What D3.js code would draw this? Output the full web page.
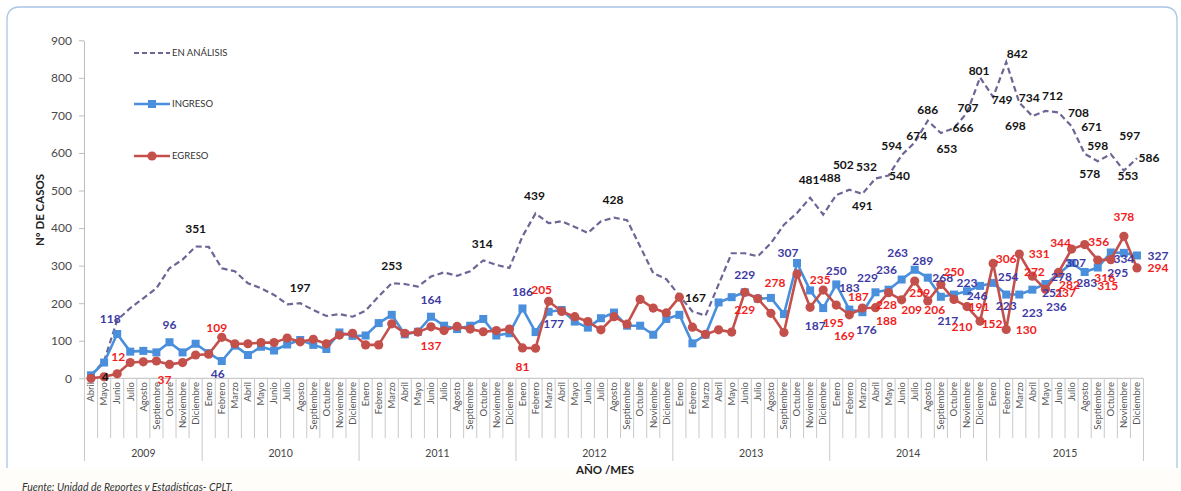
<!DOCTYPE html>
<html><head><meta charset="utf-8">
<script src="https://cdn.jsdelivr.net/npm/d3@7"></script>
<style>
html,body{margin:0;padding:0;background:#fff;}
svg{display:block;font-family:Lato,"Open Sans",sans-serif;}
</style></head>
<body><svg id="c" width="1181" height="491"></svg>
<script>
// ---------- DATA ----------
const years = ["2009","2010","2011","2012","2013","2014","2015"];
const monthNames = ["Enero","Febrero","Marzo","Abril","Mayo","Junio","Julio","Agosto","Septiembre","Octubre","Noviembre","Diciembre"];
const firstMonthIndex2009 = 3; // series starts in Abril 2009

const enAnalisis = [8,46,155,187,213,240,293,316,351,350,293,285,253,240,222,197,200,182,166,171,164,180,218,253,251,244,271,282,273,285,314,302,294,378,439,413,418,403,387,418,428,421,351,280,264,220,178,167,250,333,333,325,360,409,440,481,436,488,502,491,532,540,594,628,686,653,666,707,801,749,842,734,698,712,708,671,598,578,597,553,586];
const ingreso = [8,42,118,71,73,69,96,69,92,67,46,87,62,84,74,90,102,89,78,122,113,114,147,169,117,124,164,140,131,140,158,114,120,186,123,177,182,151,135,160,175,140,140,116,158,169,93,116,202,216,229,212,214,171,307,234,187,250,183,176,229,236,263,289,268,217,223,232,246,254,223,223,236,251,278,307,283,295,335,334,327];
const egreso = [0,4,12,42,44,46,37,42,62,64,109,92,92,95,95,107,97,104,92,115,120,89,89,145,120,123,137,127,138,131,124,127,131,81,80,205,178,164,151,129,164,144,210,187,174,216,136,117,129,123,229,212,173,122,278,189,235,195,169,187,188,228,209,259,206,250,210,191,152,306,130,331,272,237,282,344,356,315,316,378,294];

const yTicks = [0,100,200,300,400,500,600,700,800,900];

// data labels: [index, text]
const analisisLabels = [[8,"351"],[15,"197"],[23,"253"],[30,"314"],[34,"439"],[40,"428"],[47,"167"],[55,"481"],[57,"488"],[58,"502"],[59,"491"],[60,"532"],[61,"540"],[62,"594"],[63,"674"],[64,"686"],[65,"653"],[66,"666"],[67,"707"],[68,"801"],[69,"749"],[70,"842"],[71,"734"],[72,"698"],[73,"712"],[74,"708"],[75,"671"],[76,"598"],[77,"578"],[78,"597"],[79,"553"],[80,"586"]];
const ingresoLabels = [[2,"118"],[6,"96"],[10,"46"],[26,"164"],[33,"186"],[35,"177"],[50,"229"],[54,"307"],[56,"187"],[57,"250"],[58,"183"],[59,"176"],[60,"229"],[61,"236"],[62,"263"],[63,"289"],[64,"268"],[65,"217"],[66,"223"],[68,"246"],[69,"254"],[70,"223"],[71,"223"],[72,"236"],[73,"251"],[74,"278"],[75,"307"],[76,"283"],[77,"295"],[79,"334"],[80,"327"]];
const egresoLabels = [[1,"4"],[2,"12"],[6,"37"],[10,"109"],[26,"137"],[33,"81"],[35,"205"],[50,"229"],[54,"278"],[56,"235"],[57,"195"],[58,"169"],[59,"187"],[60,"188"],[61,"228"],[62,"209"],[63,"259"],[64,"206"],[65,"250"],[66,"210"],[67,"191"],[68,"152"],[69,"306"],[70,"130"],[71,"331"],[72,"272"],[73,"237"],[74,"282"],[75,"344"],[76,"356"],[77,"315"],[78,"316"],[79,"378"],[80,"294"]];

// ---------- LABEL PLACEMENT (offsets of text centre from the point) ----------
const placeA = {8:[0,-18],15:[13,-17],23:[0,-17],30:[-1,-17],34:[-1,-18],40:[-1,-18],47:[-10,-18],55:[-1,-18],57:[-6,-17],58:[-6,-25],59:[0,12],60:[-9,-12],61:[11,0],62:[-10,-9],63:[2,-7],64:[0,-11],65:[6,16],66:[9,0],67:[1,-5],68:[-1,-7],69:[9,3],70:[11,-8],71:[10,-5],72:[-17,10],73:[7,-15],74:[20,0],75:[20,0],76:[13,-8],77:[-8,13],78:[19,-18],79:[4,5],80:[12,0]};
const placeI = {2:[-7,-15],6:[0,-17],10:[-4,13],26:[0,-17],33:[0,-17],35:[5,12],50:[0,-17],54:[-9,-10],56:[-8,18],57:[0,-14],58:[0,-22],59:[4,18],60:[-8,-14],61:[-2,-20],62:[-4,-27],63:[8,-9],64:[15,0],65:[7,24],66:[13,-12],68:[-3,10],69:[15,-6],70:[0,11],71:[13,18],72:[24,17],73:[7,9],74:[3,3],75:[4,0],76:[2,11],77:[20,5],79:[0,6],80:[21,0]};
const placeE = {1:[1,0],2:[1,-17],6:[-5,15],10:[-5,-10],26:[0,19],33:[0,19],35:[-7,-12],50:[0,18],54:[-22,9],56:[-3,-10],57:[-3,18],58:[-5,21],59:[-4,-11],60:[11,13],61:[-2,12],62:[10,10],63:[5,12],64:[7,9],65:[13,-13],66:[8,27],67:[12,0],68:[12,3],69:[13,-5],70:[20,0],71:[20,0],72:[2,-4],73:[20,4],74:[11,12],75:[-11,-6],76:[14,-3],77:[10,26],78:[-6,18],79:[0,-20],80:[21,0]};

// ---------- CHART ----------
const svg = d3.select("#c");
const C = {dash:"#6c6695", blue:"#4a8fdc", red:"#c4504c", blueTxt:"#3e3aa3", redTxt:"#f21d1d", grid:"#c9c9c9", axisTxt:"#4a4a4a"};

// categories
const cats = [];
years.forEach((y,yi)=>{
  monthNames.forEach((m,mi)=>{
    if (yi===0 && mi<firstMonthIndex2009) return;
    cats.push({year:y, month:m});
  });
});

const x = d3.scaleBand().domain(d3.range(cats.length)).range([84.5,1143.5]).padding(0);
const bw = x.bandwidth();
const cx = i => x(i) + bw/2;
const y = d3.scaleLinear().domain([0,900]).range([378.3,40.3]);

// background / frame
svg.append("rect").attr("x",0).attr("y",0).attr("width",1181).attr("height",491).attr("fill","#fff");
svg.append("rect").attr("x",0).attr("y",469).attr("width",1181).attr("height",22).attr("fill","#fefdf9");
svg.append("path").attr("d","M7,468 V20 Q7,7 20,7 H1164 Q1177,7 1177,20 V468")
  .attr("fill","none").attr("stroke","#a9c5e5").attr("stroke-width",1.3);

// y axis
const yAxis = d3.axisLeft(y).tickValues(yTicks).tickSize(5).tickSizeOuter(0).tickPadding(7);
const gy = svg.append("g").attr("transform","translate(84,0)").call(yAxis);
gy.selectAll("path,line").attr("stroke","#bdbdbd");
gy.selectAll("text").attr("font-size",12).attr("fill",C.axisTxt).attr("font-family","Lato,sans-serif");

svg.append("text").attr("transform","translate(44,210) rotate(-90)")
  .attr("text-anchor","middle").attr("font-size",11.5).attr("font-weight","bold").attr("fill","#222")
  .text("N° DE CASOS");

// x axis baseline
svg.append("line").attr("x1",84.5).attr("x2",1143.5).attr("y1",y(0)).attr("y2",y(0)).attr("stroke","#bdbdbd");

// month separators
const gx = svg.append("g");
d3.range(cats.length+1).forEach(i=>{
  const xx = i<cats.length ? x(i) : x(cats.length-1)+bw;
  const isYear = i===0 || i===cats.length || cats[i].month==="Enero";
  gx.append("line").attr("x1",xx).attr("x2",xx).attr("y1",y(0)).attr("y2",isYear?461:438)
    .attr("stroke",C.grid).attr("stroke-width",1);
});
// month labels
gx.selectAll("text.m").data(cats).join("text").attr("class","m")
  .attr("transform",(d,i)=>`translate(${cx(i)+3.3},382) rotate(-90)`)
  .attr("text-anchor","end").attr("font-size",9.5).attr("fill","#555")
  .text(d=>d.month);
// year labels
years.forEach(yr=>{
  const idx = cats.map((c,i)=>c.year===yr?i:-1).filter(i=>i>=0);
  const x0 = x(idx[0]), x1 = x(idx[idx.length-1])+bw;
  gx.append("text").attr("x",(x0+x1)/2).attr("y",457).attr("text-anchor","middle")
    .attr("font-size",10.5).attr("fill","#444").text(yr);
});

svg.append("text").attr("x",605).attr("y",474).attr("text-anchor","middle")
  .attr("font-size",11.5).attr("font-weight","bold").attr("fill","#222").text("AÑO /MES");

svg.append("text").attr("x",22).attr("y",491).attr("font-size",10.5).attr("font-style","italic")
  .attr("fill","#333").text("Fuente: Unidad de Reportes y Estadísticas- CPLT.");

// lines
const line = d3.line().x((d,i)=>cx(i)).y(d=>y(d));
svg.append("path").attr("d",line(enAnalisis)).attr("fill","none").attr("stroke",C.dash)
  .attr("stroke-width",2.2).attr("stroke-dasharray","6,3.5");
svg.append("path").attr("d",line(ingreso)).attr("fill","none").attr("stroke",C.blue).attr("stroke-width",2.6).attr("stroke-linejoin","round");
svg.selectAll("rect.mi").data(ingreso).join("rect").attr("class","mi")
  .attr("x",(d,i)=>cx(i)-4).attr("y",d=>y(d)-4).attr("width",8).attr("height",8).attr("fill",C.blue);
svg.append("path").attr("d",line(egreso)).attr("fill","none").attr("stroke",C.red).attr("stroke-width",2.6).attr("stroke-linejoin","round");
svg.selectAll("circle.me").data(egreso).join("circle").attr("class","me")
  .attr("cx",(d,i)=>cx(i)).attr("cy",d=>y(d)).attr("r",4.6).attr("fill",C.red);

// legend
const lg = svg.append("g");
lg.append("line").attr("x1",134).attr("x2",170).attr("y1",53).attr("y2",53).attr("stroke",C.dash).attr("stroke-width",2).attr("stroke-dasharray","5,3");
lg.append("line").attr("x1",134).attr("x2",170).attr("y1",104).attr("y2",104).attr("stroke",C.blue).attr("stroke-width",2.6);
lg.append("rect").attr("x",148).attr("y",100).attr("width",8).attr("height",8).attr("fill",C.blue);
lg.append("line").attr("x1",134).attr("x2",170).attr("y1",156).attr("y2",156).attr("stroke",C.red).attr("stroke-width",2.6);
lg.append("circle").attr("cx",152).attr("cy",156).attr("r",4.6).attr("fill",C.red);
[["EN ANÁLISIS",53],["INGRESO",104],["EGRESO",156]].forEach(([t,yy])=>{
  lg.append("text").attr("x",172).attr("y",yy).attr("dy","0.35em").attr("font-size",9.5).attr("fill","#333").text(t);
});

// data labels
function drawLabels(list, values, place, color){
  list.forEach(([i,t])=>{
    const off = place[i] || [0,-15];
    const col = (values===egreso && i===1) ? "#111" : color;
    svg.append("text").attr("x",cx(i)+off[0]).attr("y",y(values[i])+off[1]).attr("dy","0.35em")
      .attr("text-anchor","middle").attr("font-size",12).attr("font-weight","bold").attr("fill",col).text(t);
  });
}
drawLabels(analisisLabels, enAnalisis, placeA, "#141414");
drawLabels(ingresoLabels, ingreso, placeI, C.blueTxt);
drawLabels(egresoLabels, egreso, placeE, C.redTxt);
</script></body></html>
